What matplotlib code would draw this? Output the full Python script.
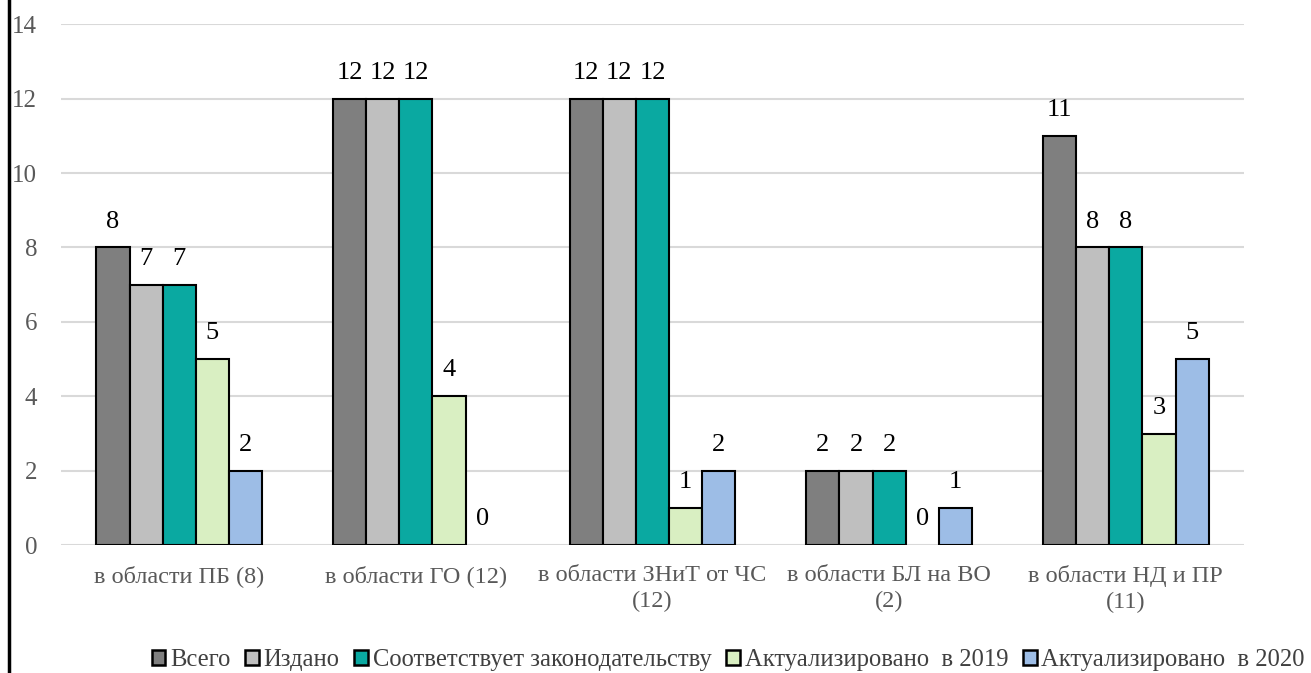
import numpy as np
from matplotlib import pyplot as plt
from matplotlib.patches import Patch
from matplotlib.lines import Line2D

categories = ['в области ПБ (8)', 'в области ГО (12)', 'в области ЗНиТ от ЧС\n(12)',
              'в области БЛ на ВО\n(2)', 'в области НД и ПР\n(11)']
series = ['Всего', 'Издано', 'Соответствует законодательству',
          'Актуализировано  в 2019', 'Актуализировано  в 2020']
vsego = [8, 12, 12, 2, 11]
izdano = [7, 12, 12, 2, 8]
sootv = [7, 12, 12, 2, 8]
akt2019 = [5, 4, 1, 0, 3]
akt2020 = [2, 0, 2, 1, 5]
values = [vsego, izdano, sootv, akt2019, akt2020]
colors = ['#7f7f7f', '#bfbfbf', '#0aa9a1', '#d9efc2', '#9dbde6']

plt.rcParams['font.family'] = ['Liberation Serif', 'DejaVu Serif']

fig = plt.figure(figsize=(13.11, 6.73), dpi=100)
ax = fig.add_axes([0.0465, 0.19, 0.9025, 0.774])

x = np.arange(len(categories))
w = 0.14
for i, (vals, c) in enumerate(zip(values, colors)):
    pos = x + (i - 2) * w
    lws = [1.5 if v > 0 else 0 for v in vals]
    ax.bar(pos, vals, w, color=c, edgecolor='black', linewidth=lws, zorder=3)
    for xp, v in zip(pos, vals):
        ax.text(xp, v + 0.4, str(v), ha='center', va='bottom', fontsize=19, color='black')

ax.set_xlim(-0.5, len(categories) - 0.5)
ax.set_ylim(0, 14)
ax.set_yticks(range(0, 15, 2))
ax.yaxis.grid(True, color='#d9d9d9', linewidth=1.5, zorder=0)
ax.set_xticks(x)
ax.set_xticklabels(categories, fontsize=17.5, color='#595959', linespacing=1.35)
ax.tick_params(axis='y', length=0, labelsize=18, labelcolor='#595959', pad=17)
ax.tick_params(axis='x', length=0, pad=14)
for s in ax.spines.values():
    s.set_visible(False)

handles = [Patch(facecolor=c, edgecolor='black', linewidth=1.8) for c in colors]
fig.legend(handles, series, loc='lower center', bbox_to_anchor=(0.5555, -0.03), ncol=5,
           frameon=False, fontsize=17.7, handlelength=0.55, handleheight=0.55,
           handletextpad=0.2, columnspacing=0.6, labelcolor='#404040')

fig.add_artist(Line2D([0.0065, 0.0065], [0, 1], color='black', linewidth=2.5, transform=fig.transFigure))

plt.savefig('out.png', dpi=100)
